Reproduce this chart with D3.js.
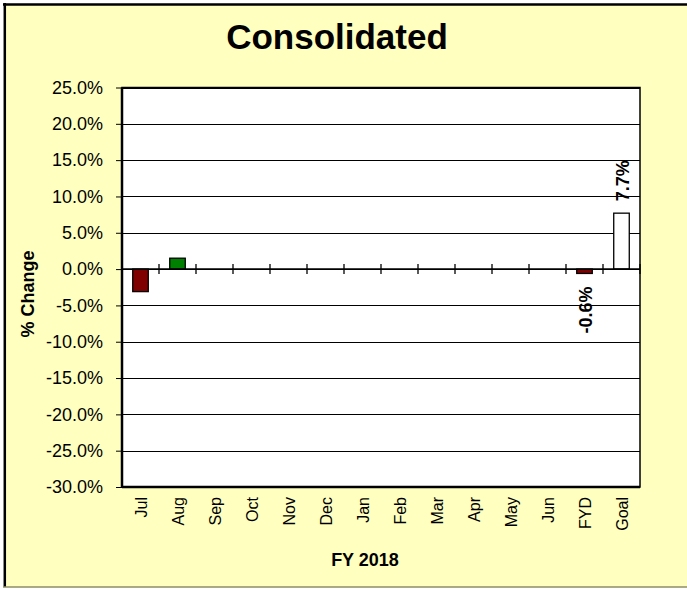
<!DOCTYPE html>
<html><head><meta charset="utf-8">
<script src="https://cdn.jsdelivr.net/npm/d3@7"></script>
<style>
html,body{margin:0;padding:0;background:#fff;}
svg{display:block;font-family:"Liberation Sans",Arial,sans-serif;}
</style></head>
<body>
<svg id="chart" width="687" height="589"></svg>
<script>
const categories = ["Jul","Aug","Sep","Oct","Nov","Dec","Jan","Feb","Mar","Apr","May","Jun","FYD","Goal"];
const values = [-3.1, 1.5, null, null, null, null, null, null, null, null, null, null, -0.6, 7.7];
const barColors = ["#800000","#008000",null,null,null,null,null,null,null,null,null,null,"#800000","#ffffff"];
const dataLabels = [null,null,null,null,null,null,null,null,null,null,null,null,"-0.6%","7.7%"];
const yTicks = [25,20,15,10,5,0,-5,-10,-15,-20,-25,-30];
const titleText = "Consolidated";
const xTitle = "FY 2018";
const yTitle = "% Change";

const svg = d3.select("#chart");
const W = 687, H = 589;
const plot = {left:122, right:640, top:87.5, bottom:487};

// frame
svg.append("rect").attr("x",4).attr("y",4).attr("width",W-4).attr("height",583).attr("fill","#FFFFC0");
svg.append("line").attr("x1",3).attr("x2",W).attr("y1",4.5).attr("y2",4.5).attr("stroke","#000").attr("stroke-width",2.5);
svg.append("line").attr("x1",4.8).attr("x2",4.8).attr("y1",3).attr("y2",587).attr("stroke","#000").attr("stroke-width",2.5);
svg.append("line").attr("x1",3).attr("x2",W).attr("y1",587).attr("y2",587).attr("stroke","#8c8c64").attr("stroke-width",1.5);

const x = d3.scaleBand().domain(categories).range([plot.left, plot.right]).paddingInner(0.58).paddingOuter(0.29);
const y = d3.scaleLinear().domain([-30,25]).range([plot.bottom, plot.top]);

// plot area
svg.append("rect").attr("x",plot.left).attr("y",plot.top).attr("width",plot.right-plot.left).attr("height",plot.bottom-plot.top).attr("fill","#fff");

// gridlines
svg.append("g").selectAll("line").data(yTicks).join("line")
  .attr("x1",plot.left).attr("x2",plot.right)
  .attr("y1",d=>Math.round(y(d))+0.5).attr("y2",d=>Math.round(y(d))+0.5)
  .attr("stroke","#000").attr("stroke-width",1);

// y axis
const yAxis = d3.axisLeft(y).tickValues(yTicks).tickSize(6).tickPadding(13).tickFormat(d=>d.toFixed(1)+"%");
const gy = svg.append("g").attr("transform",`translate(${plot.left},0)`).call(yAxis);
gy.select(".domain").remove();
gy.selectAll(".tick line").attr("stroke","#000");
gy.selectAll(".tick text").attr("font-size","18px").attr("fill","#000").attr("font-family","'Liberation Sans',Arial,sans-serif");

// bars
svg.append("g").selectAll("rect").data(categories.map((c,i)=>({c,v:values[i],col:barColors[i]})).filter(d=>d.v!=null))
  .join("rect")
  .attr("x",d=>x(d.c)).attr("width",x.bandwidth())
  .attr("y",d=>y(Math.max(0,d.v))).attr("height",d=>Math.abs(y(d.v)-y(0)))
  .attr("fill",d=>d.col).attr("stroke","#000").attr("stroke-width",1.3);

// zero axis with crossing ticks
const y0 = y(0);
svg.append("line").attr("x1",plot.left).attr("x2",plot.right).attr("y1",y0).attr("y2",y0).attr("stroke","#000").attr("stroke-width",1.5);
const step = x.step();
const bounds = d3.range(1, categories.length+1).map(i=>plot.left + i*step);
svg.append("g").selectAll("line").data(bounds).join("line")
  .attr("x1",d=>d).attr("x2",d=>d).attr("y1",y0-5).attr("y2",y0+5)
  .attr("stroke","#000").attr("stroke-width",1.3);

// plot border
svg.append("rect").attr("x",plot.left).attr("y",plot.top).attr("width",plot.right-plot.left).attr("height",plot.bottom-plot.top)
  .attr("fill","none").attr("stroke","#000").attr("stroke-width",1.5);
svg.append("line").attr("x1",plot.left).attr("x2",plot.left).attr("y1",plot.top).attr("y2",plot.bottom+1).attr("stroke","#000").attr("stroke-width",2.5);
svg.append("line").attr("x1",plot.left).attr("x2",plot.right).attr("y1",plot.bottom).attr("y2",plot.bottom).attr("stroke","#000").attr("stroke-width",2.5);

// category labels
svg.append("g").selectAll("text").data(categories).join("text")
  .attr("transform",d=>`translate(${x(d)+x.bandwidth()/2+1},497) rotate(-90)`)
  .attr("dy","0.35em").attr("text-anchor","end").attr("font-size","16px").attr("fill","#000").text(d=>d);

// data labels
svg.append("g").selectAll("text").data(categories.map((c,i)=>({c,v:values[i],t:dataLabels[i]})).filter(d=>d.t))
  .join("text")
  .attr("transform",d=> d.v>=0 ? `translate(${x(d.c)+x.bandwidth()/2+1},${y(d.v)-12}) rotate(-90)` : `translate(${x(d.c)+x.bandwidth()/2+1},${y(d.v)+13}) rotate(-90)`)
  .attr("dy","0.35em").attr("text-anchor",d=>d.v>=0?"start":"end")
  .attr("font-size","18px").attr("font-weight","bold").attr("fill","#000").text(d=>d.t);

// titles
svg.append("text").attr("x",337).attr("y",49).attr("text-anchor","middle").attr("font-size","35px").attr("font-weight","bold").text(titleText);
svg.append("text").attr("x",365).attr("y",566).attr("text-anchor","middle").attr("font-size","18px").attr("font-weight","bold").text(xTitle);
svg.append("text").attr("transform","translate(34,294) rotate(-90)").attr("text-anchor","middle").attr("font-size","18px").attr("font-weight","bold").text(yTitle);
</script>
</body></html>
